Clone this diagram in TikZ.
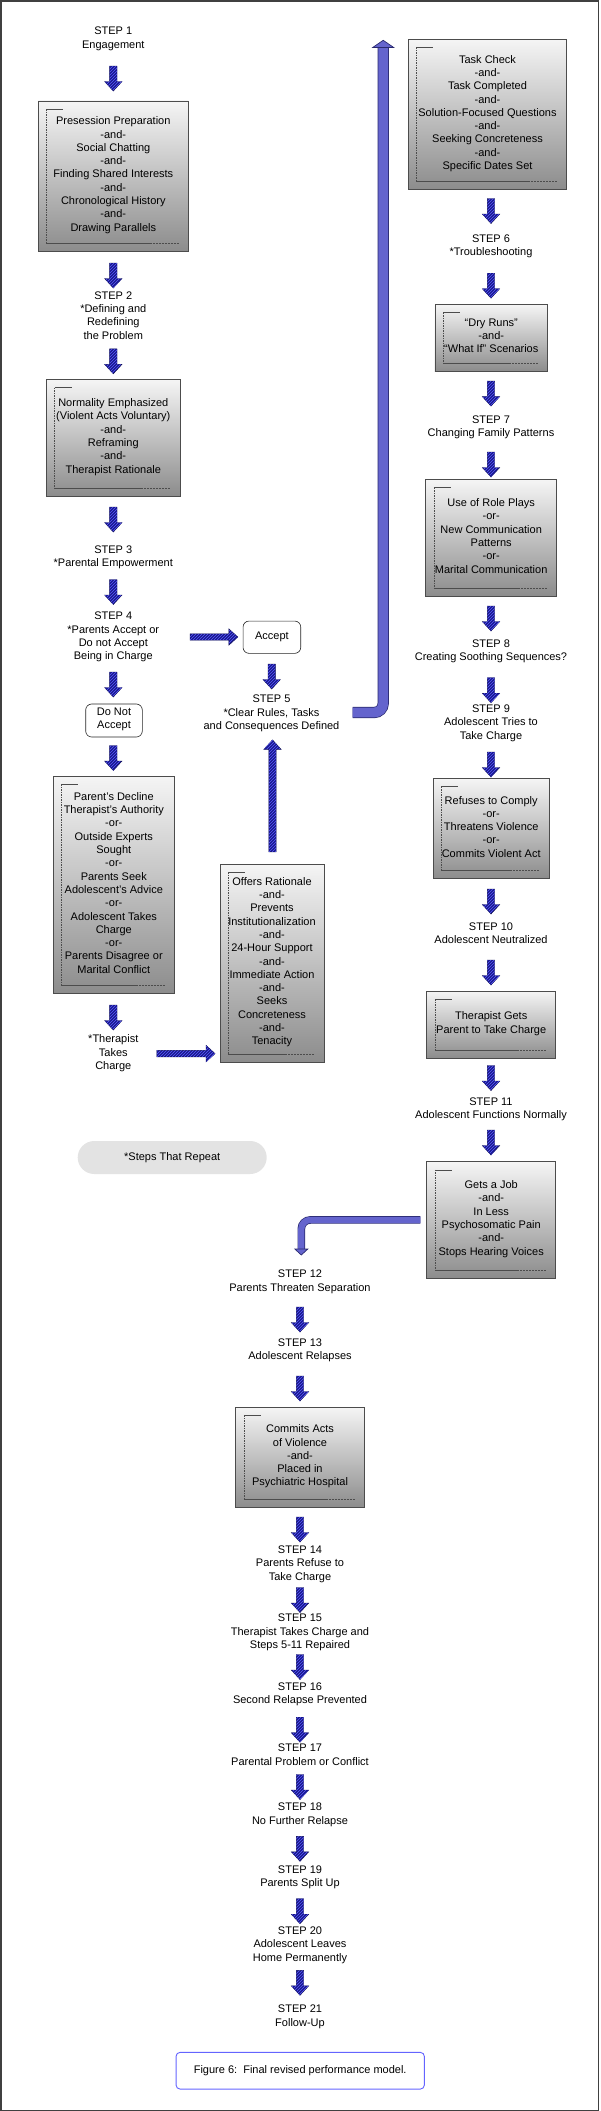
\documentclass[tikz,border=0pt]{standalone}
\usepackage{fontspec}
\setmainfont{Liberation Sans}
\usetikzlibrary{shapes.arrows,patterns}

\definecolor{arrfill}{RGB}{25,25,140}
\definecolor{arrhatch}{RGB}{90,90,255}
\definecolor{arrline}{RGB}{10,10,80}
\definecolor{bandfill}{RGB}{100,100,205}
\definecolor{bandline}{RGB}{40,40,110}
\definecolor{capline}{RGB}{100,100,255}

\tikzset{
    txt/.style={align=center, inner sep=0pt, execute at begin node=\strut, execute at end node=\strut},
    gbox/.style={txt, draw=black!70, line width=0.8pt, top color=black!4, bottom color=black!45},
    rbox/.style={txt, draw=black!85, line width=0.6pt, fill=white, rounded corners=6pt},
    blockarrow/.style={single arrow, draw=arrline, line width=0.4pt, fill=arrfill,
        postaction={pattern=north east lines, pattern color=arrhatch},
        single arrow head extend=5pt, single arrow tip angle=85, inner xsep=0pt, inner ysep=3.5pt},
    frm/.style={black!70, line width=0.6pt},
    band/.style={draw=bandline, line width=0.7pt, double=bandfill, rounded corners=9pt}
}

\begin{document}
\begin{tikzpicture}[x=1pt, y=-1pt, font=\fontsize{11}{13.3}\selectfont]
        \useasboundingbox (0,0) rectangle (600,2111);
        \draw[black!75, line width=1.2pt] (1,1) rectangle (598.5,2110.2);

        \node[txt] (s1) at (113.3,39.7) {STEP 1\\Engagement};
        \node[gbox, minimum width=150, minimum height=150] (b1) at (113.3,176) {Presession Preparation\\-and-\\Social Chatting\\-and-\\Finding Shared Interests\\-and-\\Chronological History\\-and-\\Drawing Parallels};
        \node[txt] (s2) at (113.3,317.5) {STEP 2\\*Defining and\\Redefining\\the Problem};
        \node[gbox, minimum width=133.3, minimum height=116.5] (b2) at (113.3,437.8) {Normality Emphasized\\(Violent Acts Voluntary)\\-and-\\Reframing\\-and-\\Therapist Rationale};
        \node[txt] (s3) at (113.3,557.8) {STEP 3\\*Parental Empowerment};
        \node[txt] (s4) at (113.3,638) {STEP 4\\*Parents Accept or\\Do not Accept\\Being in Charge};
        \node[rbox, minimum width=56.6, minimum height=33] (dna) at (114,720.5) {Do Not\\Accept};
        \node[gbox, minimum width=121, minimum height=217.6] (b3) at (113.8,884.8) {Parent's Decline\\Therapist's Authority\\-or-\\Outside Experts\\Sought\\-or-\\Parents Seek\\Adolescent's Advice\\-or-\\Adolescent Takes\\Charge\\-or-\\Parents Disagree or\\Marital Conflict};
        \node[txt] (tc) at (113.3,1054) {*Therapist\\Takes\\Charge};

        \node[rbox, minimum width=57.7, minimum height=32.3] (acc) at (271.9,637.2) {Accept};
        \node[txt] (s5) at (271.5,714.3) {STEP 5\\*Clear Rules, Tasks\\and Consequences Defined};
        \node[gbox, minimum width=104, minimum height=198] (b4) at (272,963) {Offers Rationale\\-and-\\Prevents\\Institutionalization\\-and-\\24-Hour Support\\-and-\\Immediate Action\\-and-\\Seeks\\Concreteness\\-and-\\Tenacity};

        \node[gbox, minimum width=158.4, minimum height=150] (b5) at (487.5,114.4) {Task Check\\-and-\\Task Completed\\-and-\\Solution-Focused Questions\\-and-\\Seeking Concreteness\\-and-\\Specific Dates Set};
        \node[txt] (s6) at (491,247) {STEP 6\\*Troubleshooting};
        \node[gbox, minimum width=112.7, minimum height=66.5] (b6) at (491.3,337.8) {``Dry Runs''\\-and-\\``What If'' Scenarios};
        \node[txt] (s7) at (491,428) {STEP 7\\Changing Family Patterns};
        \node[gbox, minimum width=131, minimum height=116.5] (b7) at (491.2,537.8) {Use of Role Plays\\-or-\\New Communication\\Patterns\\-or-\\Marital Communication};
        \node[txt] (s8) at (491,652.4) {STEP 8\\Creating Soothing Sequences?};
        \node[txt] (s9) at (491,724) {STEP 9\\Adolescent Tries to\\Take Charge};
        \node[gbox, minimum width=115.7, minimum height=100] (b9) at (491.2,828.6) {Refuses to Comply\\-or-\\Threatens Violence\\-or-\\Commits Violent Act};
        \node[txt] (s10) at (491,935.1) {STEP 10\\Adolescent Neutralized};
        \node[gbox, minimum width=129, minimum height=67] (b10) at (491.2,1024.5) {Therapist Gets\\Parent to Take Charge};
        \node[txt] (s11) at (491,1109.9) {STEP 11\\Adolescent Functions Normally};
        \node[gbox, minimum width=129, minimum height=116.3] (b11) at (491.2,1219.9) {Gets a Job\\-and-\\In Less\\Psychosomatic Pain\\-and-\\Stops Hearing Voices};

        \node[fill=black!11, rounded corners=16.5pt, minimum width=189, minimum height=33, inner sep=0pt] (rep) at (172.2,1157.5) {*Steps That Repeat};

        \node[txt] (s12) at (300,1282.7) {STEP 12\\Parents Threaten Separation};
        \node[txt] (s13) at (300,1351) {STEP 13\\Adolescent Relapses};
        \node[gbox, minimum width=128.6, minimum height=100] (b13) at (300,1457.3) {Commits Acts\\of Violence\\-and-\\Placed in\\Psychiatric Hospital};
        \node[txt] (s14) at (300,1565) {STEP 14\\Parents Refuse to\\Take Charge};
        \node[txt] (s15) at (300,1633.3) {STEP 15\\Therapist Takes Charge and\\Steps 5-11 Repaired};
        \node[txt] (s16) at (300,1695.4) {STEP 16\\Second Relapse Prevented};
        \node[txt] (s17) at (300,1756.7) {STEP 17\\Parental Problem or Conflict};
        \node[txt] (s18) at (300,1815.7) {STEP 18\\No Further Relapse};
        \node[txt] (s19) at (300,1878.4) {STEP 19\\Parents Split Up};
        \node[txt] (s20) at (300,1946) {STEP 20\\Adolescent Leaves\\Home Permanently};
        \node[txt] (s21) at (300,2017.7) {STEP 21\\Follow-Up};
        \node[draw=capline, line width=0.9pt, rounded corners=4pt, fill=white, minimum width=248.3, minimum height=36.7] (cap) at (300.2,2070.7) {Figure 6:\ \ Final revised performance model.};

        \foreach \b in {b1,b2,b3,b4,b5,b6,b7,b9,b10,b11,b13}
        {
            \draw[frm] ([shift={(8.5pt,-8.5pt)}]\b.north west) -- ([shift={(25.5pt,-8.5pt)}]\b.north west);
            \draw[frm, dash pattern=on 1.5pt off 1pt] ([shift={(8.5pt,-8.5pt)}]\b.north west) -- ([shift={(8.5pt,8.5pt)}]\b.south west);
            \draw[frm] ([shift={(8.5pt,8.5pt)}]\b.south west) -- ([shift={(-39pt,8.5pt)}]\b.south east);
            \draw[frm, dash pattern=on 2pt off 1pt] ([shift={(-39pt,8.5pt)}]\b.south east) -- ([shift={(-10pt,8.5pt)}]\b.south east);
        }

        \foreach \n/\x/\y in {1/113.3/76.5, 2/113.3/273.5, 3/113.3/359.3, 4/113.3/517.5, 5/113.3/590, 6/113.3/682.5,
            7/113.3/756, 8/113.3/1015.5, 9/491/209, 10/491/283.7, 11/491/391.6, 12/491/462.5, 13/491/616.5,
            14/491/688.2, 15/491/762.5, 16/491/899.5, 17/491/970.5, 18/491/1076, 19/491/1140.5, 20/271.7/674.5,
            21/300/1317.5, 22/300/1386.5, 23/300/1527.5, 24/300/1598, 25/300/1665, 26/300/1727.7, 27/300/1785,
            28/300/1846.8, 29/300/1909.2, 30/300/1980.8}
            \node[blockarrow, rotate=-90, minimum height=25] (d\n) at (\x,\y) {};

        \node[blockarrow, inner ysep=3pt, minimum height=47.7] (r1) at (212.2,637) {};
        \node[blockarrow, inner ysep=3pt, minimum height=58.3] (r2) at (184.2,1053.6) {};
        \node[blockarrow, rotate=90, minimum height=112] (u1) at (272.5,797.9) {};

        \coordinate (lpS) at (352.7,712.5);
        \coordinate (lpE) at (383.2,47.5);
        \draw[band, double distance=9.8pt] (lpS) -| (lpE);
        \filldraw[fill=bandfill, draw=bandline, line width=0.7pt] ([xshift=-10.5pt]lpE) -- ([yshift=7.2pt]lpE) -- ([xshift=10.5pt]lpE) -- cycle;

        \coordinate (bnE) at (301.3,1249);
        \draw[band, double distance=6.2pt] ([xshift=-6pt]b11.west) -| (bnE);
        \filldraw[fill=bandfill, draw=bandline, line width=0.7pt] ([xshift=-6.5pt]bnE) -- ([yshift=-6pt]bnE) -- ([xshift=6.5pt]bnE) -- cycle;
\end{tikzpicture}
\end{document}
